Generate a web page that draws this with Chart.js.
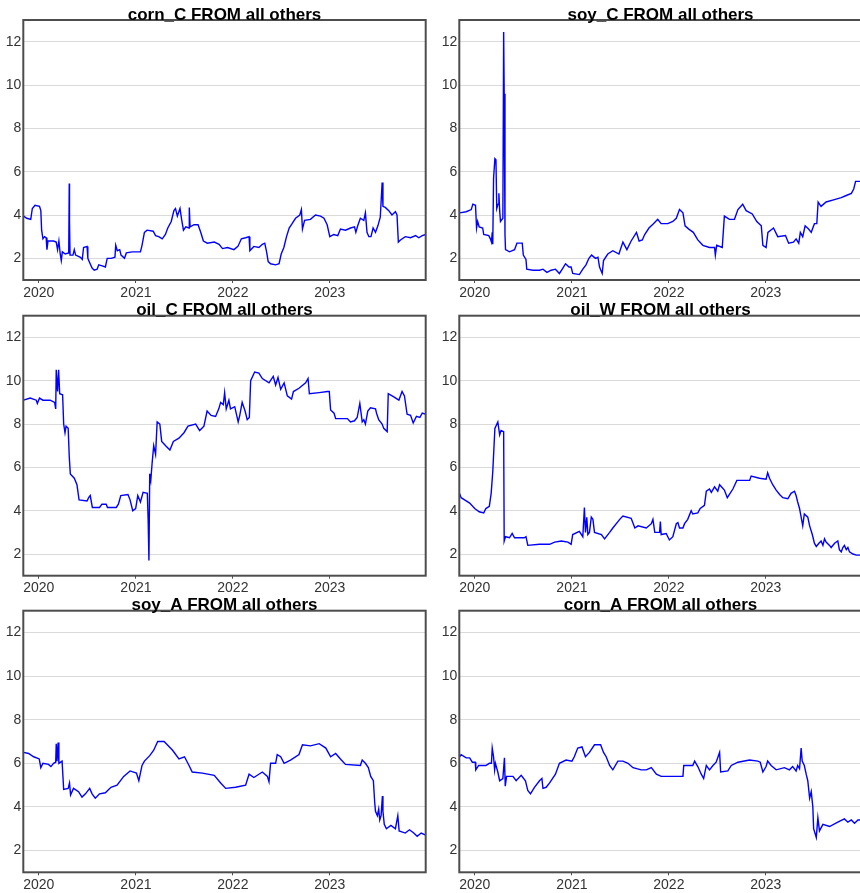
<!DOCTYPE html>
<html>
<head>
<meta charset="utf-8">
<title>Spillovers FROM all others</title>
<script src="https://cdn.jsdelivr.net/npm/chart.js@4.4.1/dist/chart.umd.min.js"></script>
<style>
  html, body { margin: 0; padding: 0; background: #ffffff; }
  #board { position: relative; width: 860px; height: 893px; overflow: hidden; background: #ffffff; }
  #board canvas { position: absolute; }
</style>
</head>
<body>
<div id="board"></div>
<script>
// ---- data: [date, FROM spillover %] ----
const cornC = [
  ["2019-11-05",3.95],["2019-11-17",3.85],["2019-12-02",3.8],["2019-12-08",4.3],["2019-12-18",4.45],
  ["2020-01-04",4.4],["2020-01-09",4.2],["2020-01-12",3.3],["2020-01-17",2.9],["2020-01-23",3.0],
  ["2020-01-29",2.95],["2020-02-01",2.4],["2020-02-05",2.8],["2020-02-26",2.8],["2020-03-07",2.75],
  ["2020-03-12",2.4],["2020-03-17",2.8],["2020-03-22",2.2],["2020-03-26",1.9],["2020-03-30",2.3],
  ["2020-04-10",2.2],["2020-04-23",2.25],["2020-04-25",5.45],["2020-04-26",3.7],["2020-04-28",2.15],
  ["2020-05-09",2.15],["2020-05-14",2.4],["2020-05-19",2.15],["2020-06-06",2.05],["2020-06-13",1.95],
  ["2020-06-18",2.5],["2020-07-01",2.55],["2020-07-04",2.0],["2020-07-11",1.8],["2020-07-20",1.55],
  ["2020-07-28",1.45],["2020-08-08",1.5],["2020-08-14",1.7],["2020-08-27",1.65],["2020-09-08",1.6],
  ["2020-09-15",2.0],["2020-09-30",2.0],["2020-10-14",2.05],["2020-10-17",2.6],["2020-10-23",2.35],
  ["2020-11-01",2.4],["2020-11-06",2.15],["2020-11-19",2.0],["2020-11-26",2.25],["2020-12-18",2.3],
  ["2021-01-06",2.3],["2021-01-18",2.3],["2021-01-24",2.6],["2021-02-02",3.2],["2021-02-12",3.3],
  ["2021-03-07",3.25],["2021-03-16",3.05],["2021-03-28",3.0],["2021-04-10",2.9],["2021-04-22",3.1],
  ["2021-05-01",3.4],["2021-05-14",3.7],["2021-05-24",4.2],["2021-05-30",4.3],["2021-06-06",3.95],
  ["2021-06-16",4.3],["2021-06-22",3.8],["2021-06-29",3.3],["2021-07-08",3.45],["2021-07-20",3.4],
  ["2021-07-21",4.35],["2021-07-24",3.45],["2021-08-08",3.55],["2021-08-23",3.55],["2021-09-02",3.2],
  ["2021-09-12",2.8],["2021-09-27",2.7],["2021-10-23",2.75],["2021-11-10",2.65],["2021-11-23",2.45],
  ["2021-12-12",2.5],["2022-01-05",2.4],["2022-01-20",2.55],["2022-02-02",2.9],["2022-02-18",2.95],
  ["2022-03-03",3.0],["2022-03-06",2.35],["2022-03-21",2.55],["2022-04-09",2.5],["2022-04-22",2.65],
  ["2022-05-01",2.7],["2022-05-08",2.3],["2022-05-14",1.85],["2022-05-23",1.75],["2022-06-11",1.7],
  ["2022-06-24",1.75],["2022-07-02",2.2],["2022-07-12",2.5],["2022-07-22",3.0],["2022-08-01",3.4],
  ["2022-08-12",3.6],["2022-08-25",3.85],["2022-09-10",4.0],["2022-09-16",4.25],["2022-09-20",3.35],
  ["2022-09-28",3.75],["2022-10-20",3.8],["2022-11-08",4.0],["2022-11-27",3.95],["2022-12-10",3.85],
  ["2022-12-22",3.55],["2023-01-01",3.0],["2023-01-16",3.1],["2023-01-31",3.05],["2023-02-10",3.35],
  ["2023-03-01",3.3],["2023-03-20",3.4],["2023-04-04",3.45],["2023-04-09",3.2],["2023-04-16",3.5],
  ["2023-04-26",3.85],["2023-05-09",3.75],["2023-05-15",4.1],["2023-05-21",3.2],["2023-05-28",3.0],
  ["2023-06-05",3.0],["2023-06-13",3.4],["2023-06-22",3.2],["2023-07-01",3.5],["2023-07-10",3.9],
  ["2023-07-17",5.5],["2023-07-20",4.4],["2023-07-29",4.35],["2023-08-11",4.2],["2023-08-23",4.0],
  ["2023-09-05",4.15],["2023-09-11",4.0],["2023-09-16",2.75],["2023-09-24",2.85],["2023-10-12",3.0],
  ["2023-11-01",2.95],["2023-11-20",3.05],["2023-12-02",2.95],["2023-12-15",3.05],["2023-12-28",3.1]
];

const soyC = [
  ["2019-11-05",4.1],["2019-11-30",4.15],["2019-12-19",4.25],["2019-12-25",4.5],["2020-01-04",4.45],
  ["2020-01-08",3.4],["2020-01-12",3.7],["2020-01-18",3.45],["2020-01-31",3.4],["2020-02-04",3.1],
  ["2020-02-23",3.05],["2020-02-29",2.9],["2020-03-04",2.75],["2020-03-07",3.2],["2020-03-09",2.65],
  ["2020-03-12",5.7],["2020-03-17",6.6],["2020-03-21",6.55],["2020-03-24",4.3],["2020-03-29",4.5],
  ["2020-04-01",5.0],["2020-04-04",4.2],["2020-04-07",3.7],["2020-04-16",3.85],["2020-04-19",12.45],
  ["2020-04-21",9.6],["2020-04-24",3.1],["2020-04-26",2.4],["2020-05-11",2.3],["2020-05-30",2.4],
  ["2020-06-08",2.7],["2020-06-28",2.7],["2020-07-02",2.15],["2020-07-12",1.95],["2020-07-15",1.5],
  ["2020-08-07",1.45],["2020-09-01",1.45],["2020-09-14",1.5],["2020-09-29",1.35],["2020-10-15",1.45],
  ["2020-10-31",1.5],["2020-11-15",1.3],["2020-11-28",1.55],["2020-12-08",1.75],["2020-12-21",1.6],
  ["2020-12-29",1.6],["2021-01-04",1.3],["2021-01-29",1.25],["2021-02-11",1.5],["2021-02-23",1.7],
  ["2021-03-06",2.0],["2021-03-16",2.15],["2021-03-31",2.0],["2021-04-09",2.05],["2021-04-15",1.6],
  ["2021-04-25",1.3],["2021-04-30",1.9],["2021-05-16",2.2],["2021-06-04",2.35],["2021-06-27",2.2],
  ["2021-07-12",2.75],["2021-07-27",2.4],["2021-08-12",2.8],["2021-09-01",3.2],["2021-09-11",2.8],
  ["2021-09-23",2.85],["2021-10-02",3.1],["2021-10-18",3.4],["2021-11-04",3.6],["2021-11-20",3.8],
  ["2021-12-03",3.6],["2021-12-28",3.6],["2022-01-16",3.7],["2022-01-29",3.85],["2022-02-10",4.25],
  ["2022-02-23",4.1],["2022-03-03",3.5],["2022-03-17",3.35],["2022-04-03",3.2],["2022-04-20",2.85],
  ["2022-05-09",2.6],["2022-06-03",2.5],["2022-06-22",2.5],["2022-06-25",2.15],["2022-06-30",2.6],
  ["2022-07-21",2.5],["2022-07-29",3.95],["2022-08-17",3.8],["2022-09-05",3.8],["2022-09-18",4.25],
  ["2022-10-06",4.5],["2022-10-19",4.2],["2022-11-11",4.05],["2022-11-28",3.7],["2022-12-15",3.5],
  ["2022-12-21",2.6],["2023-01-02",2.5],["2023-01-09",3.2],["2023-01-30",3.4],["2023-02-15",3.0],
  ["2023-03-16",3.05],["2023-03-28",2.7],["2023-04-15",2.75],["2023-04-25",2.9],["2023-05-05",2.7],
  ["2023-05-11",3.2],["2023-05-20",3.0],["2023-05-29",3.5],["2023-06-11",3.35],["2023-06-21",3.2],
  ["2023-07-03",3.6],["2023-07-12",3.6],["2023-07-17",4.6],["2023-07-28",4.4],["2023-08-16",4.6],
  ["2023-09-13",4.7],["2023-10-12",4.8],["2023-10-31",4.9],["2023-11-19",5.0],["2023-11-28",5.2],
  ["2023-12-05",5.55],["2023-12-28",5.55]
];

const oilC = [
  ["2019-11-05",9.1],["2019-11-30",9.2],["2019-12-23",9.1],["2019-12-27",8.95],["2020-01-04",9.2],
  ["2020-01-17",9.1],["2020-02-13",9.1],["2020-03-01",9.0],["2020-03-05",8.7],["2020-03-07",10.5],
  ["2020-03-12",9.5],["2020-03-16",10.5],["2020-03-20",9.4],["2020-03-31",9.35],["2020-04-04",8.0],
  ["2020-04-09",7.6],["2020-04-13",7.9],["2020-04-21",7.8],["2020-04-25",6.5],["2020-04-29",5.7],
  ["2020-05-14",5.5],["2020-05-24",5.2],["2020-06-01",4.5],["2020-07-01",4.45],["2020-07-07",4.6],
  ["2020-07-13",4.7],["2020-07-21",4.15],["2020-08-17",4.15],["2020-08-26",4.3],["2020-09-11",4.3],
  ["2020-09-16",4.15],["2020-10-19",4.15],["2020-10-27",4.3],["2020-11-05",4.7],["2020-12-02",4.75],
  ["2020-12-10",4.5],["2020-12-20",4.0],["2020-12-31",4.1],["2021-01-08",4.7],["2021-01-18",4.4],
  ["2021-01-28",4.85],["2021-02-13",4.8],["2021-02-16",3.6],["2021-02-19",1.7],["2021-02-22",5.7],
  ["2021-02-26",5.4],["2021-03-03",6.2],["2021-03-09",7.0],["2021-03-16",6.6],["2021-03-22",8.1],
  ["2021-04-01",8.0],["2021-04-08",7.2],["2021-04-23",7.0],["2021-05-09",6.8],["2021-05-22",7.2],
  ["2021-06-12",7.35],["2021-07-01",7.6],["2021-07-16",7.9],["2021-08-14",8.0],["2021-08-29",7.7],
  ["2021-09-14",7.9],["2021-09-26",8.6],["2021-10-11",8.4],["2021-10-28",8.35],["2021-11-09",8.7],
  ["2021-11-16",9.0],["2021-11-26",8.9],["2021-12-01",9.45],["2021-12-07",8.7],["2021-12-17",9.1],
  ["2021-12-23",8.7],["2022-01-08",8.8],["2022-01-21",8.1],["2022-01-27",8.4],["2022-02-05",9.0],
  ["2022-02-16",8.6],["2022-02-24",8.2],["2022-03-04",8.3],["2022-03-09",10.0],["2022-03-24",10.4],
  ["2022-04-09",10.35],["2022-04-22",10.1],["2022-05-17",9.9],["2022-06-02",10.2],["2022-06-11",9.8],
  ["2022-06-20",10.15],["2022-06-30",9.6],["2022-07-13",9.9],["2022-07-25",9.3],["2022-08-10",9.15],
  ["2022-08-17",9.5],["2022-09-07",9.65],["2022-10-02",9.9],["2022-10-11",10.1],["2022-10-16",9.4],
  ["2022-11-22",9.45],["2022-12-23",9.5],["2022-12-30",9.5],["2023-01-04",8.65],["2023-01-17",8.5],
  ["2023-01-23",8.25],["2023-03-08",8.25],["2023-03-20",8.1],["2023-04-04",8.15],["2023-04-14",8.3],
  ["2023-04-24",8.95],["2023-05-03",8.1],["2023-05-09",8.2],["2023-05-15",8.0],["2023-05-24",8.6],
  ["2023-06-03",8.75],["2023-06-22",8.7],["2023-06-26",8.5],["2023-07-04",8.2],["2023-07-17",8.0],
  ["2023-07-23",7.8],["2023-08-05",7.65],["2023-08-09",9.4],["2023-08-30",9.25],["2023-09-18",9.1],
  ["2023-09-30",9.5],["2023-10-09",9.3],["2023-10-19",8.45],["2023-11-01",8.4],["2023-11-11",8.05],
  ["2023-11-23",8.35],["2023-12-06",8.3],["2023-12-15",8.5],["2023-12-28",8.45]
];

const oilW = [
  ["2019-11-05",4.8],["2019-11-11",4.6],["2019-11-24",4.5],["2019-12-13",4.35],["2020-01-01",4.1],
  ["2020-01-18",3.95],["2020-02-04",3.9],["2020-02-12",4.1],["2020-02-25",4.2],["2020-03-03",4.8],
  ["2020-03-09",5.8],["2020-03-17",7.8],["2020-03-28",8.1],["2020-04-04",7.5],["2020-04-09",7.7],
  ["2020-04-19",7.65],["2020-04-21",2.6],["2020-04-26",2.8],["2020-05-11",2.75],["2020-05-21",2.95],
  ["2020-05-30",2.75],["2020-07-06",2.75],["2020-07-12",2.8],["2020-07-19",2.4],["2020-09-01",2.45],
  ["2020-10-09",2.45],["2020-10-28",2.55],["2020-11-22",2.6],["2020-12-17",2.55],["2020-12-29",2.45],
  ["2021-01-04",2.9],["2021-01-29",3.05],["2021-02-11",2.8],["2021-02-17",4.15],["2021-02-21",3.0],
  ["2021-02-26",3.7],["2021-03-02",2.9],["2021-03-08",3.0],["2021-03-15",3.7],["2021-03-21",3.6],
  ["2021-03-27",3.0],["2021-04-22",2.9],["2021-05-04",2.7],["2021-05-23",3.0],["2021-06-04",3.2],
  ["2021-06-30",3.6],["2021-07-12",3.75],["2021-08-12",3.65],["2021-08-26",3.2],["2021-09-07",3.3],
  ["2021-10-08",3.2],["2021-10-27",3.4],["2021-11-02",3.6],["2021-11-09",3.0],["2021-11-27",3.0],
  ["2021-11-30",3.5],["2021-12-03",2.9],["2021-12-22",2.95],["2021-12-28",2.8],["2022-01-03",2.65],
  ["2022-01-16",2.8],["2022-01-29",3.4],["2022-02-04",3.45],["2022-02-10",3.2],["2022-02-23",3.2],
  ["2022-03-01",3.4],["2022-03-13",3.6],["2022-03-26",4.0],["2022-04-01",3.85],["2022-04-20",3.9],
  ["2022-04-29",4.1],["2022-05-15",4.25],["2022-05-22",4.9],["2022-06-03",5.0],["2022-06-10",4.85],
  ["2022-06-22",5.1],["2022-07-04",4.9],["2022-07-11",5.2],["2022-07-29",4.95],["2022-08-09",4.6],
  ["2022-08-17",4.75],["2022-08-30",5.0],["2022-09-14",5.4],["2022-11-01",5.4],["2022-11-07",5.6],
  ["2022-12-08",5.5],["2023-01-02",5.45],["2023-01-08",5.75],["2023-01-15",5.5],["2023-01-27",5.2],
  ["2023-02-09",4.95],["2023-02-22",4.75],["2023-03-06",4.6],["2023-03-25",4.55],["2023-04-06",4.8],
  ["2023-04-19",4.9],["2023-04-25",4.7],["2023-05-01",4.4],["2023-05-08",4.1],["2023-05-14",3.7],
  ["2023-05-20",3.3],["2023-05-26",3.85],["2023-06-08",3.7],["2023-06-15",3.3],["2023-06-25",2.9],
  ["2023-07-03",2.5],["2023-07-10",2.35],["2023-07-20",2.5],["2023-07-28",2.6],["2023-08-04",2.4],
  ["2023-08-10",2.7],["2023-08-16",2.55],["2023-08-29",2.4],["2023-09-04",2.3],["2023-09-17",2.5],
  ["2023-09-29",2.6],["2023-10-05",2.2],["2023-10-12",2.1],["2023-10-18",2.3],["2023-10-24",2.4],
  ["2023-10-31",2.2],["2023-11-06",2.3],["2023-11-12",2.1],["2023-11-25",2.0],["2023-12-08",1.95],
  ["2023-12-28",1.95]
];

const soyA = [
  ["2019-11-05",6.5],["2019-11-24",6.45],["2019-12-13",6.3],["2020-01-03",6.2],["2020-01-09",5.8],
  ["2020-01-17",6.0],["2020-02-07",5.95],["2020-02-16",5.85],["2020-02-26",6.0],["2020-03-05",6.05],
  ["2020-03-07",6.9],["2020-03-10",6.1],["2020-03-14",6.95],["2020-03-17",6.0],["2020-03-29",6.1],
  ["2020-04-04",4.8],["2020-04-21",4.85],["2020-04-26",5.1],["2020-04-30",4.55],["2020-05-11",4.85],
  ["2020-05-30",4.7],["2020-06-12",4.45],["2020-06-25",4.6],["2020-07-11",4.85],["2020-07-20",4.6],
  ["2020-08-01",4.4],["2020-08-17",4.6],["2020-09-08",4.65],["2020-09-29",4.9],["2020-10-22",5.0],
  ["2020-11-16",5.4],["2020-12-10",5.65],["2021-01-03",5.55],["2021-01-12",5.2],["2021-01-24",5.9],
  ["2021-02-02",6.1],["2021-02-22",6.35],["2021-03-09",6.6],["2021-03-24",7.0],["2021-04-17",7.0],
  ["2021-04-29",6.85],["2021-05-19",6.6],["2021-06-12",6.2],["2021-07-03",6.3],["2021-07-20",5.9],
  ["2021-08-01",5.6],["2021-09-08",5.55],["2021-10-23",5.45],["2021-11-16",5.1],["2021-12-05",4.85],
  ["2022-01-11",4.9],["2022-02-18",5.0],["2022-03-03",5.5],["2022-03-21",5.35],["2022-04-22",5.6],
  ["2022-05-11",5.4],["2022-05-17",5.15],["2022-05-23",6.0],["2022-06-11",6.0],["2022-06-17",6.4],
  ["2022-06-30",6.3],["2022-07-13",6.0],["2022-08-06",6.15],["2022-09-07",6.4],["2022-09-20",6.85],
  ["2022-10-20",6.8],["2022-11-22",6.9],["2022-12-17",6.7],["2023-01-04",6.3],["2023-01-23",6.45],
  ["2023-02-10",6.2],["2023-03-01",5.95],["2023-04-26",5.9],["2023-05-03",6.15],["2023-05-15",6.0],
  ["2023-05-26",5.8],["2023-06-04",5.4],["2023-06-14",5.2],["2023-06-19",4.2],["2023-06-22",3.8],
  ["2023-06-29",3.6],["2023-07-04",3.9],["2023-07-08",3.4],["2023-07-13",3.6],["2023-07-18",4.5],
  ["2023-07-20",3.8],["2023-07-25",3.2],["2023-08-02",3.0],["2023-08-19",3.15],["2023-09-05",3.0],
  ["2023-09-14",3.6],["2023-09-19",2.9],["2023-10-12",2.8],["2023-10-28",2.95],["2023-11-13",2.8],
  ["2023-11-26",2.65],["2023-12-11",2.8],["2023-12-28",2.7]
];

const cornA = [
  ["2019-11-05",6.3],["2019-11-11",6.4],["2019-11-30",6.25],["2019-12-13",6.25],["2019-12-23",6.05],
  ["2020-01-03",6.05],["2020-01-05",5.7],["2020-01-16",5.9],["2020-02-12",5.9],["2020-02-25",6.0],
  ["2020-03-04",6.0],["2020-03-07",6.7],["2020-03-12",6.3],["2020-03-16",5.7],["2020-03-19",6.0],
  ["2020-03-28",5.6],["2020-04-04",5.2],["2020-04-16",5.3],["2020-04-22",6.25],["2020-04-25",4.95],
  ["2020-04-30",5.4],["2020-05-24",5.4],["2020-06-05",5.2],["2020-06-24",5.45],["2020-07-10",5.2],
  ["2020-07-19",4.75],["2020-07-29",4.6],["2020-08-13",4.9],["2020-09-01",5.2],["2020-09-10",5.3],
  ["2020-09-14",4.85],["2020-09-26",4.9],["2020-10-09",5.1],["2020-10-31",5.5],["2020-11-15",6.0],
  ["2020-12-10",6.15],["2021-01-01",6.1],["2021-01-10",6.3],["2021-01-23",6.7],["2021-02-08",6.75],
  ["2021-02-21",6.3],["2021-03-08",6.5],["2021-03-27",6.85],["2021-04-19",6.85],["2021-04-30",6.5],
  ["2021-05-10",6.3],["2021-05-23",5.9],["2021-06-04",5.7],["2021-06-23",6.1],["2021-07-12",6.1],
  ["2021-07-31",6.0],["2021-08-19",5.8],["2021-09-19",5.7],["2021-10-08",5.7],["2021-10-27",5.8],
  ["2021-11-15",5.5],["2021-12-03",5.4],["2022-02-23",5.4],["2022-02-26",5.9],["2022-04-01",5.9],
  ["2022-04-08",6.1],["2022-04-20",5.85],["2022-05-03",5.5],["2022-05-12",5.3],["2022-05-22",5.9],
  ["2022-06-03",5.7],["2022-06-16",5.9],["2022-06-28",6.05],["2022-07-11",6.5],["2022-07-15",5.6],
  ["2022-08-11",5.65],["2022-08-24",5.9],["2022-09-18",6.05],["2022-11-01",6.15],["2022-12-02",6.1],
  ["2022-12-11",6.05],["2022-12-21",5.6],["2023-01-02",5.85],["2023-01-08",6.1],["2023-01-21",5.9],
  ["2023-02-09",5.7],["2023-03-12",5.8],["2023-03-31",5.7],["2023-04-12",5.85],["2023-04-25",5.65],
  ["2023-05-01",5.9],["2023-05-08",5.75],["2023-05-14",6.7],["2023-05-18",6.1],["2023-05-26",5.9],
  ["2023-06-02",5.5],["2023-06-08",5.2],["2023-06-15",4.4],["2023-06-21",4.7],["2023-06-27",4.0],
  ["2023-06-30",3.0],["2023-07-05",2.8],["2023-07-10",2.6],["2023-07-16",3.5],["2023-07-22",2.9],
  ["2023-08-04",3.2],["2023-08-29",3.1],["2023-09-29",3.3],["2023-10-24",3.45],["2023-11-06",3.3],
  ["2023-11-19",3.4],["2023-12-01",3.25],["2023-12-14",3.4],["2023-12-28",3.4]
];

const panelTitles = [
  "corn_C FROM all others", "soy_C FROM all others",
  "oil_C FROM all others",  "oil_W FROM all others",
  "soy_A FROM all others",  "corn_A FROM all others"
];
const panelSeries = [cornC, soyC, oilC, oilW, soyA, cornA];

const yearTicks  = [2020, 2021, 2022, 2023];
const valueTicks = [2, 4, 6, 8, 10, 12];
const dateRange  = ["2019-11-04", "2023-12-28"];
const valueRange = [1, 13];

// ---- layout of the 2 x 3 grid ----
const columns = [
  { left: 0,   width: 430, axisWidth: 23.3, padRight: 4.3 },
  { left: 430, width: 440, axisWidth: 29.3, padRight: 8.3 }
];
const rows = [
  { top: 0,   height: 300, padTop: 20,   axisHeight: 20 },
  { top: 295, height: 300, padTop: 20.7, axisHeight: 19.3 },
  { top: 590, height: 303, padTop: 20.7, axisHeight: 20.7 }
];

const FONT = '"Liberation Sans", Arial, Helvetica, sans-serif';
const toTime = s => Date.parse(s + "T00:00:00Z");

// frame around the plotting region plus the panel heading sitting on its top edge
const framePlugin = {
  id: 'panelFrame',
  afterDraw(chart, args, opts) {
    const { ctx, chartArea: a } = chart;
    ctx.save();
    ctx.strokeStyle = '#4d4d4d';
    ctx.lineWidth = 2;
    ctx.strokeRect(a.left, a.top, a.right - a.left, a.bottom - a.top);
    ctx.fillStyle = '#000000';
    ctx.font = 'bold 17px ' + FONT;
    ctx.textAlign = 'center';
    ctx.textBaseline = 'alphabetic';
    ctx.fillText(opts.text, (a.left + a.right) / 2, a.top - 0.5);
    ctx.restore();
  }
};

const board = document.getElementById('board');

panelSeries.forEach((series, i) => {
  const col = columns[i % 2];
  const row = rows[Math.floor(i / 2)];
  const canvas = document.createElement('canvas');
  canvas.width = col.width;
  canvas.height = row.height;
  canvas.style.left = col.left + 'px';
  canvas.style.top = row.top + 'px';
  canvas.style.width = col.width + 'px';
  canvas.style.height = row.height + 'px';
  board.appendChild(canvas);

  new Chart(canvas, {
    type: 'line',
    data: {
      datasets: [{
        data: series.map(([d, v]) => ({ x: toTime(d), y: v })),
        borderColor: '#0000ff',
        borderWidth: 1.4,
        pointRadius: 0,
        tension: 0,
        fill: false
      }]
    },
    options: {
      responsive: false,
      animation: false,
      devicePixelRatio: 1,
      layout: { padding: { top: row.padTop, right: col.padRight, bottom: 0, left: 0 } },
      plugins: {
        legend: { display: false },
        tooltip: { enabled: false },
        panelFrame: { text: panelTitles[i] }
      },
      scales: {
        x: {
          type: 'linear',
          min: toTime(dateRange[0]),
          max: toTime(dateRange[1]),
          afterBuildTicks: s => { s.ticks = yearTicks.map(y => ({ value: Date.UTC(y, 0, 1) })); },
          afterFit: s => { s.height = row.axisHeight; },
          grid: { drawOnChartArea: false, drawTicks: true, tickLength: 3, color: '#4d4d4d', lineWidth: 1 },
          border: { display: false },
          ticks: {
            autoSkip: false, maxRotation: 0, padding: 1.5,
            color: '#333333', font: { family: FONT, size: 14 },
            callback: v => String(new Date(v).getUTCFullYear())
          }
        },
        y: {
          min: valueRange[0],
          max: valueRange[1],
          afterBuildTicks: s => { s.ticks = valueTicks.map(v => ({ value: v })); },
          afterFit: s => { s.width = col.axisWidth; },
          grid: { color: '#dadada', lineWidth: 1, drawTicks: false },
          border: { display: false },
          ticks: { padding: 2, color: '#333333', font: { family: FONT, size: 14 } }
        }
      }
    },
    plugins: [framePlugin]
  });
});
</script>
</body>
</html>
